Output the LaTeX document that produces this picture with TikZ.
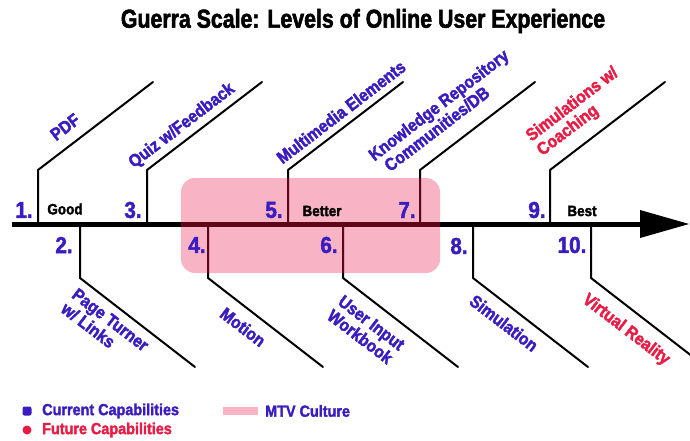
\documentclass[tikz,border=0pt]{standalone}
\usepackage{fontspec}
\setmainfont{Liberation Sans}
\newfontfamily\labf{Liberation Sans}[UprightFont={* Bold},FakeStretch=0.9,FakeBold=2.2]
\newfontfamily\numf{Liberation Sans}[UprightFont={* Bold},FakeStretch=0.9,FakeBold=2]
\newfontfamily\titf{Liberation Sans}[UprightFont={* Bold},FakeStretch=0.82,FakeBold=2]
\definecolor{capblue}{RGB}{58,28,192}
\definecolor{capred}{RGB}{232,28,68}
\definecolor{mtvpink}{RGB}{248,180,196}
\definecolor{mtvline}{RGB}{95,5,25}
\begin{document}
\begin{tikzpicture}[x=1pt,y=-1pt,
  axisline/.style={line width=5pt},
  branch/.style={line width=2pt,line join=round,line cap=round},
  lbl/.style={font=\labf\fontsize{17.5}{18}\selectfont,text=capblue,align=left,inner sep=0pt},
  lblred/.style={lbl,text=capred},
  num/.style={font=\numf\fontsize{23}{23}\selectfont,text=capblue,inner sep=0pt},
  qual/.style={font=\numf\fontsize{15}{15}\selectfont,text=black,inner sep=0pt},
  leg/.style={font=\numf\fontsize{16}{16}\selectfont,inner sep=0pt,anchor=west},
  ttl/.style={font=\titf\fontsize{26}{26}\selectfont,inner sep=0pt}]
\useasboundingbox (0,0) rectangle (690,441);
\clip (0,0) rectangle (690,441);
% MTV culture band
\node[draw=none,fill=mtvpink,rounded corners=14pt,minimum width=259pt,minimum height=95pt,inner sep=0pt] (mtv) at (310.5,225.5) {};
% axis
\coordinate (a0) at (12,224);
\coordinate (a1) at (642,224);
\coordinate (tip) at (689,224);
\draw[axisline] (a0) -- (a1);
\fill (640,210) -- (tip) -- (640,238) -- cycle;
% upper branches
\foreach \n/\x in {u1/38,u3/147,u5/288,u7/420,u9/550}{
  \coordinate (\n b) at (\x,224);
  \coordinate (\n k) at (\x,170);
  \coordinate (\n e) at (\x+115,82);
  \draw[branch] (\n b) -- (\n k) -- (\n e);
}
% lower branches
\foreach \n/\x in {l2/80,l4/208,l6/343,l8/473,l10/591}{
  \coordinate (\n b) at (\x,224);
  \coordinate (\n k) at (\x,278);
  \coordinate (\n e) at (\x+115,367);
  \draw[branch] (\n b) -- (\n k) -- (\n e);
}
% redraw lines inside band in maroon
\begin{scope}
\clip[rounded corners=14pt] (181,178) rectangle (440,273);
\draw[axisline,mtvline] (a0) -- (a1);
\foreach \n in {u5,u7}{\draw[branch,mtvline] (\n b) -- (\n k);}
\foreach \n in {l4,l6}{\draw[branch,mtvline] (\n b) -- (\n k);}
\end{scope}
% title
\node[ttl] (title) at (363,21) {Guerra Scale: Levels of Online User Experience};
% numbers
\node[num] (n1) at (24,210) {1.};
\node[num] (n3) at (133,210) {3.};
\node[num] (n5) at (274,210) {5.};
\node[num] (n7) at (407,210) {7.};
\node[num] (n9) at (537,210) {9.};
\node[num] (n2) at (64,245) {2.};
\node[num] (n4) at (197,245) {4.};
\node[num] (n6) at (329,245) {6.};
\node[num] (n8) at (459,246) {8.};
\node[num] (n10) at (572,245) {10.};
\node[qual] (good) at (65,209) {Good};
\node[qual] (better) at (322,211) {Better};
\node[qual] (best) at (582,211) {Best};
% upper labels
\node[lbl,rotate=37.4] (pdf) at (65,127) {PDF};
\node[lbl,rotate=37.4] (quiz) at (182,126) {Quiz w/Feedback};
\node[lbl,rotate=37.4] (multi) at (341,112) {Multimedia Elements};
\node[lbl,rotate=37.4] (know) at (444,112) {Knowledge Repository\\\hspace*{6pt}Communities/DB};
\node[lblred,rotate=37.4] (simc) at (578,112) {Simulations w/\\Coaching};
% lower labels
\node[lbl,rotate=-37.4] (page) at (105,327) {Page Turner\\w/ Links};
\node[lbl,rotate=-37.4] (motion) at (243,327) {Motion};
\node[lbl,rotate=-37.4] (user) at (366,330) {User Input\\Workbook};
\node[lbl,rotate=-37.4] (sim) at (504,323) {Simulation};
\node[lblred,rotate=-37.4] (vr) at (626,330) {Virtual Reality};
% legend
\node[fill=capblue,rounded corners=2pt,minimum size=9pt,inner sep=0pt] (kb) at (27,411) {};
\node[fill=capred,circle,minimum size=9pt,inner sep=0pt] (kr) at (27,430) {};
\node[leg,text=capblue] (lc) at (42,411) {Current Capabilities};
\node[leg,text=capred] (lf) at (42,430) {Future Capabilities};
\node[fill=mtvpink,minimum width=35pt,minimum height=8pt,inner sep=0pt] (kp) at (240.5,411) {};
\node[leg,text=capblue] (lm) at (265,411) {MTV Culture};
\end{tikzpicture}
\end{document}
